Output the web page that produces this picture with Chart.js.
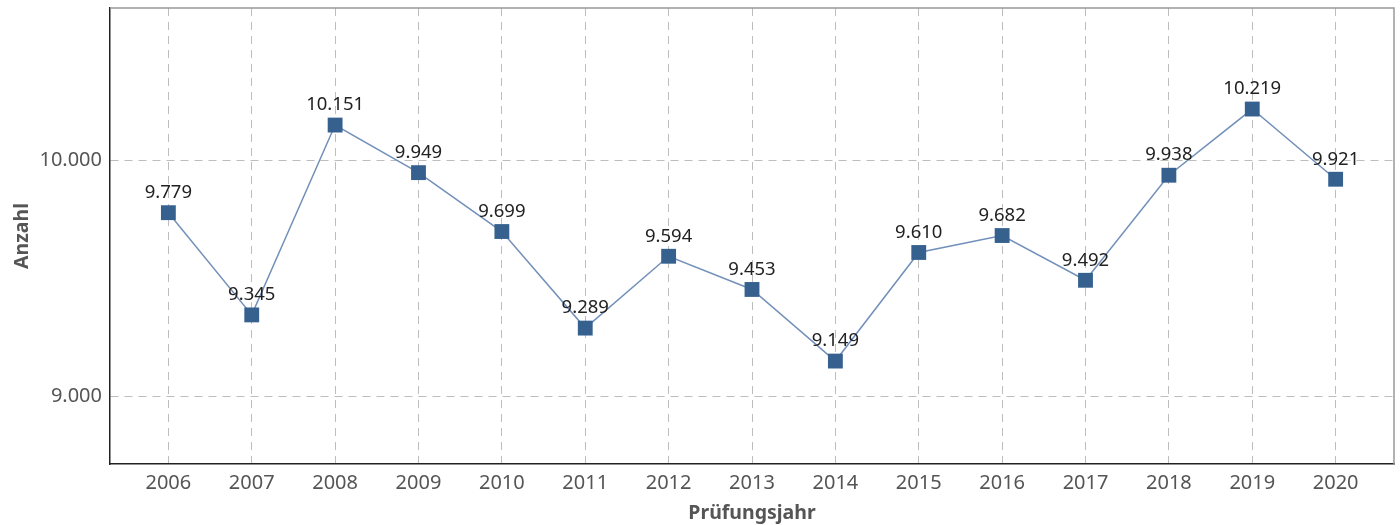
<!DOCTYPE html>
<html>
<head>
<meta charset="utf-8">
<script src="https://cdn.jsdelivr.net/npm/chart.js@4"></script>
<style>
  html, body { margin: 0; padding: 0; background: #fff; }
  #wrap { width: 1400px; height: 525px; }
</style>
</head>
<body>
<div id="wrap"><canvas id="chart" width="1400" height="525"></canvas></div>
<script>
// data
const years = [2006, 2007, 2008, 2009, 2010, 2011, 2012, 2013, 2014, 2015, 2016, 2017, 2018, 2019, 2020];
const counts = [9779, 9345, 10151, 9949, 9699, 9289, 9594, 9453, 9149, 9610, 9682, 9492, 9938, 10219, 9921];
const yTicks = [9000, 10000];

const fontFamily = "'Noto Sans', 'Open Sans', sans-serif";
const fmt = v => v.toLocaleString('de-DE');

// value labels above points + gray top/right frame
const extras = {
  id: 'extras',
  afterDatasetsDraw(chart) {
    const ctx = chart.ctx;
    const meta = chart.getDatasetMeta(0);
    ctx.save();
    ctx.font = '18.5px ' + fontFamily;
    ctx.fillStyle = '#222';
    ctx.textAlign = 'center';
    ctx.textBaseline = 'middle';
    meta.data.forEach((pt, i) => {
      ctx.fillText(fmt(counts[i]), pt.x, pt.y - 20);
    });
    const a = chart.chartArea;
    ctx.strokeStyle = '#999';
    ctx.lineWidth = 1.5;
    ctx.beginPath();
    ctx.moveTo(a.left, a.top);
    ctx.lineTo(a.right, a.top);
    ctx.lineTo(a.right, a.bottom);
    ctx.stroke();
    ctx.restore();
  }
};

const ctx = document.getElementById('chart').getContext('2d');
new Chart(ctx, {
  type: 'line',
  data: {
    datasets: [{
      data: years.map((y, i) => ({ x: y, y: counts[i] })),
      borderColor: '#7290b9',
      borderWidth: 1.5,
      pointStyle: 'rect',
      pointRadius: 10.5,
      pointBackgroundColor: '#36618f',
      pointBorderWidth: 0,
      tension: 0
    }]
  },
  options: {
    responsive: false,
    animation: false,
    layout: { autoPadding: false, padding: { top: 8, right: 6, left: 0, bottom: 0 } },
    plugins: { legend: { display: false }, tooltip: { enabled: false } },
    scales: {
      x: {
        type: 'linear',
        min: 2005.3,
        max: 2020.7,
        afterBuildTicks(scale) { scale.ticks = years.map(v => ({ value: v })); },
        afterFit(scale) {
          scale.height = 61;
          scale.paddingLeft = 0;
          scale.paddingRight = 0;
        },
        ticks: {
          color: '#555',
          font: { size: 20, family: fontFamily },
          padding: 7,
          callback: v => String(v)
        },
        grid: { color: '#bdbdbd', lineWidth: 1, drawTicks: false },
        border: { color: '#222', width: 1.5, dash: [8, 6] },
        title: {
          display: true,
          text: 'Prüfungsjahr',
          color: '#555',
          font: { size: 19.5, weight: 'bold', family: fontFamily },
          padding: { top: 2, bottom: 0 }
        }
      },
      y: {
        min: 8712,
        max: 10648,
        afterBuildTicks(scale) { scale.ticks = yTicks.map(v => ({ value: v })); },
        afterFit(scale) {
          scale.width = 110;
          scale.paddingTop = 0;
          scale.paddingBottom = 0;
        },
        ticks: {
          color: '#555',
          font: { size: 20, family: fontFamily },
          padding: 8,
          callback: v => fmt(v)
        },
        grid: { color: '#bdbdbd', lineWidth: 1, drawTicks: false },
        border: { color: '#222', width: 1.5, dash: [8, 6] },
        title: {
          display: true,
          text: 'Anzahl',
          color: '#555',
          font: { size: 19.5, weight: 'bold', family: fontFamily },
          padding: { top: 11, bottom: 4 }
        }
      }
    }
  },
  plugins: [extras]
});
</script>
</body>
</html>
